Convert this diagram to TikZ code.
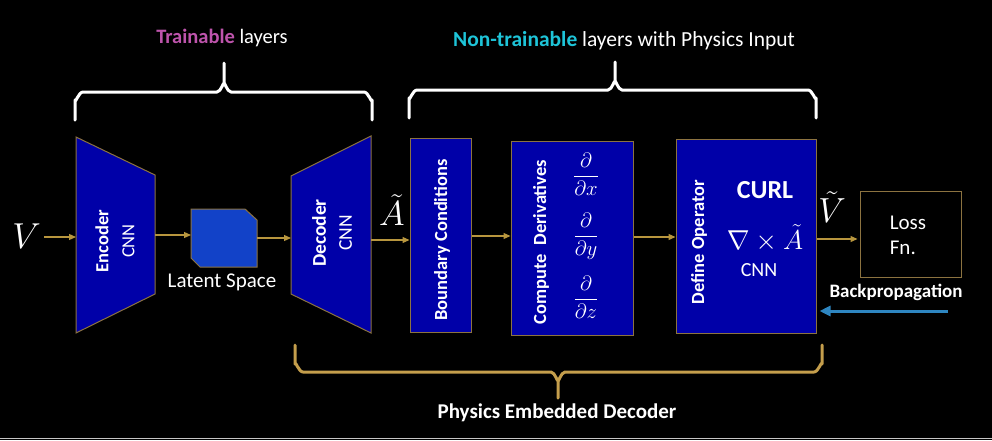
\documentclass[tikz,border=0pt]{standalone}
\usepackage{fontspec}
\setmainfont{Carlito}
\usetikzlibrary{arrows.meta}
\definecolor{boxblue}{RGB}{0,0,168}
\definecolor{latblue}{RGB}{18,66,200}
\definecolor{goldline}{RGB}{140,115,64}
\definecolor{goldarrow}{RGB}{184,150,62}
\definecolor{bracegold}{RGB}{196,158,76}
\definecolor{trainmag}{RGB}{190,84,172}
\definecolor{ntcyan}{RGB}{30,196,216}
\definecolor{bpblue}{RGB}{46,134,193}
\newcommand{\fs}[1]{\fontsize{#1}{#1}\selectfont}
\begin{document}
\begin{tikzpicture}[x=1pt,y=-1pt,
  blk/.style={draw=goldline, line width=1pt, fill=boxblue, inner sep=0pt},
  conn/.style={draw=goldarrow, line width=1.2pt, -{Triangle[length=7pt,width=6pt]}},
  wtext/.style={text=white, inner sep=0pt},
  vtext/.style={text=white, rotate=90, align=center, inner sep=0pt},
  bracew/.style={draw=white, line width=3pt, line cap=round, line join=round},
  braceg/.style={draw=bracegold, line width=3pt, line cap=round, line join=round}
]
\useasboundingbox (0,0) rectangle (992,440);
\fill[black] (0,0) rectangle (992,440);
\draw[gray!45, line width=1pt] (0,438.5) -- (992,438.5);

% titles
\node[wtext, font=\fs{20.5}] (ttl1) at (222,38) {\textcolor{trainmag}{\bfseries Trainable} layers};
\node[wtext, font=\fs{21.5}] (ttl2) at (624,41) {\textcolor{ntcyan}{\bfseries Non-trainable} layers with Physics Input};

% top braces
\draw[bracew] (75,120) -- (75,100) to[out=-90,in=180] (83,92) -- (217,92) to[out=0,in=90] (224,84) -- (224,63);
\draw[bracew] (372,120) -- (372,100) to[out=-90,in=0] (364,92) -- (231,92) to[out=180,in=90] (224,84);
\draw[bracew] (409,118) -- (409,98) to[out=-90,in=180] (417,90) -- (608,90) to[out=0,in=90] (615,82) -- (615,62);
\draw[bracew] (816,118) -- (816,98) to[out=-90,in=0] (808,90) -- (622,90) to[out=180,in=90] (615,82);

% bottom brace
\draw[braceg] (295,345) -- (295,364) to[out=90,in=180] (303,372) -- (551,372) to[out=0,in=-90] (558,380) -- (558,398);
\draw[braceg] (822,345) -- (822,364) to[out=90,in=0] (814,372) -- (565,372) to[out=180,in=-90] (558,380);
\node[wtext, font=\fs{21}\bfseries] (ped) at (557,413) {Physics Embedded Decoder};

% encoder
\draw[blk] (76,137) -- (155,175) -- (155,294) -- (76,333) -- cycle;
\coordinate (encW) at (76,237);
\coordinate (encE) at (155,235);
\node[vtext, font=\fontsize{18.5}{26}\selectfont] (enct) at (115,241) {\textbf{Encoder}\\CNN};

% latent
\draw[draw=goldline, line width=1pt, fill=latblue] (191,209) -- (245,209) -- (257,220) -- (257,267) -- (200,267) -- (191,258) -- cycle;
\coordinate (latW) at (191,235);
\coordinate (latE) at (257,238);
\node[wtext, font=\fs{21}] (latt) at (222,282) {Latent Space};

% decoder
\draw[blk] (291,176) -- (371,136) -- (371,333) -- (291,294) -- cycle;
\coordinate (decW) at (291,238);
\coordinate (decE) at (371,240);
\node[vtext, font=\fontsize{19.5}{26}\selectfont] (dect) at (332,233) {\textbf{Decoder}\\CNN};

% boxes
\node[blk, minimum width=61pt, minimum height=194pt] (bc) at (440.5,235) {};
\node[vtext, font=\fs{18.5}\bfseries] (bct) at (442,240) {Boundary Conditions};
\node[blk, minimum width=122pt, minimum height=194pt] (cd) at (572,238) {};
\node[vtext, font=\fs{18.5}\bfseries] (cdt) at (541,242) {Compute\ \ Derivatives};
\node[wtext, font=\fs{20}] (dx) at (586,174) {$\displaystyle\frac{\partial}{\partial x}$};
\node[wtext, font=\fs{20}] (dy) at (586,236) {$\displaystyle\frac{\partial}{\partial y}$};
\node[wtext, font=\fs{20}] (dz) at (586,297) {$\displaystyle\frac{\partial}{\partial z}$};
\node[blk, minimum width=140pt, minimum height=194pt] (do) at (746,236) {};
\node[vtext, font=\fs{18.5}\bfseries] (dot) at (699,242) {Define Operator};
\node[wtext, font=\fs{26}\bfseries] (curl) at (765,190) {CURL};
\node[wtext, font=\fs{24}] (nab) at (765,238) {\scalebox{1.1}{$\nabla\times\tilde{A}$}};
\node[wtext, font=\fs{20}] (cnn3) at (759,270) {CNN};

% loss
\node[draw=goldline, line width=1pt, fill=black, minimum width=101pt, minimum height=86pt] (loss) at (910.5,234) {};
\node[wtext, align=left, font=\fontsize{21}{25}\selectfont] (losst) at (908,235) {Loss\\Fn.};
\node[wtext, font=\fs{19}\bfseries] (bp) at (896,292) {Backpropagation};

% math labels
\node[wtext, anchor=east, font=\fs{24}] (V) at (41,236) {\scalebox{1.45}{$V$}};
\node[wtext, font=\fs{24}] (At) at (392,210) {\scalebox{1.4}{$\tilde{A}$}};
\node[wtext, font=\fs{24}] (Vt) at (832,207) {\scalebox{1.4}{$\tilde{V}$}};

% connectors
\draw[conn] (V.east |- encW) ++(3,0) -- (encW);
\draw[conn] (encE) -- (latW);
\draw[conn] (latE) -- (decW);
\draw[conn] (decE) -- (bc.west |- decE);
\draw[conn] (bc.east |- 0,236) -- (cd.west |- 0,236);
\draw[conn] (cd.east |- 0,237) -- (do.west |- 0,237);
\draw[conn] (do.east |- 0,239) -- ([xshift=-2pt]loss.west |- 0,239);
\coordinate (bpS) at (948,311);
\draw[draw=bpblue, line width=3pt, -{Triangle[length=11pt,width=10pt]}] (bpS) -- ([xshift=3pt]do.east |- bpS);
\end{tikzpicture}
\end{document}
